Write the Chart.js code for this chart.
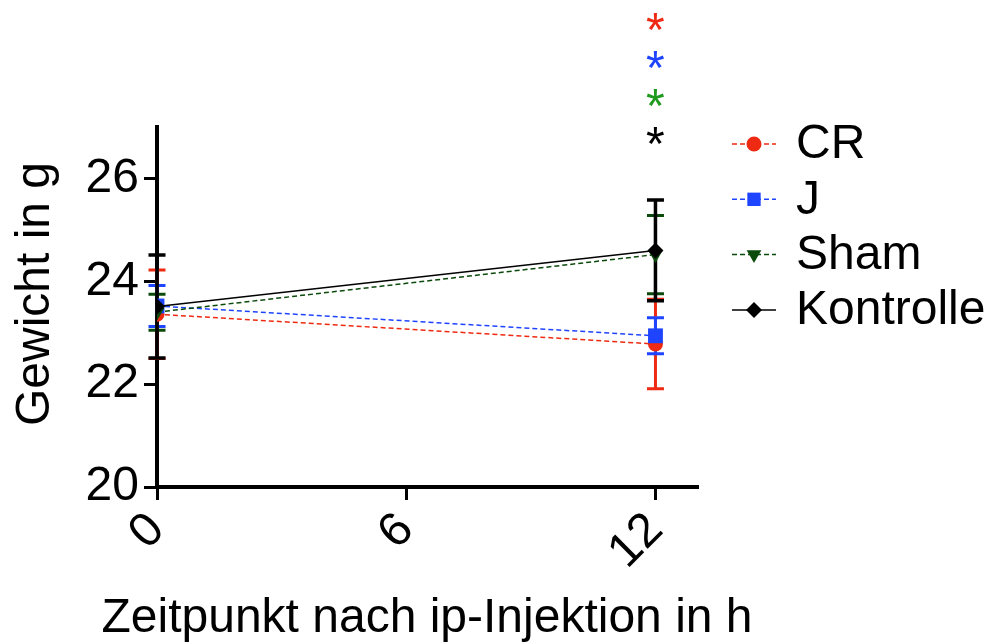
<!DOCTYPE html>
<html>
<head>
<meta charset="utf-8">
<script src="https://cdn.jsdelivr.net/npm/chart.js@4.4.1/dist/chart.umd.min.js"></script>
<style>
  html, body { margin: 0; padding: 0; background: #fff; }
  #wrap { width: 990px; height: 642px; }
</style>
</head>
<body>
<div id="wrap"><canvas id="weight-chart" width="990" height="642"></canvas></div>
<script>
// values
const timePoints = [0, 12];
const groupNames = ['CR', 'J', 'Sham', 'Kontrolle'];
const crMean = [23.36, 22.78];
const crSd = [0.86, 0.87];
const jMean = [23.52, 22.94];
const jSd = [0.40, 0.35];
const shamMean = [23.40, 24.52];
const shamSd = [0.35, 0.76];
const kontrolleMean = [23.51, 24.60];
const kontrolleSd = [1.00, 0.98];
const xTicks = [0, 6, 12];
const yTicks = [20, 22, 24, 26];
const xTitle = 'Zeitpunkt nach ip-Injektion in h';
const yTitle = 'Gewicht in g';
const starTime = 12;
const starLabels = ['*', '*', '*', '*'];

const FONT = '"Liberation Sans", Arial, sans-serif';
const colors = ['#ee2a12', '#1f44ff', '#0c4a0c', '#000000'];
const starColors = ['#ee2a12', '#1f44ff', '#1f9a1f', '#000000'];

function toPoints(means) {
  return timePoints.map((t, i) => ({ x: t, y: means[i] }));
}

const means = [crMean, jMean, shamMean, kontrolleMean];
const sds = [crSd, jSd, shamSd, kontrolleSd];
const styles = [
  { pointStyle: 'circle', radius: 7.5, rotation: 0, dash: [5, 3] },
  { pointStyle: 'rect', radius: 10.5, rotation: 0, dash: [5, 3] },
  { pointStyle: 'triangle', radius: 8.5, rotation: 180, dash: [5, 3] },
  { pointStyle: 'rectRot', radius: 8, rotation: 0, dash: [] }
];

const datasets = groupNames.map((name, i) => ({
  label: name,
  data: toPoints(means[i]),
  borderColor: colors[i],
  backgroundColor: colors[i],
  borderWidth: 1.5,
  borderDash: styles[i].dash,
  pointStyle: styles[i].pointStyle,
  pointRadius: styles[i].radius,
  pointRotation: styles[i].rotation,
  pointBorderWidth: 0,
  order: 3 - i,
  fill: false
}));

const errorBars = {
  id: 'errorBars',
  beforeDatasetsDraw(chart) {
    const ctx = chart.ctx;
    const xs = chart.scales.x, ys = chart.scales.y;
    ctx.save();
    groupNames.forEach((name, i) => {
      ctx.strokeStyle = colors[i];
      ctx.lineWidth = i === 3 ? 3.5 : 3;
      timePoints.forEach((t, j) => {
        const px = xs.getPixelForValue(t);
        const top = ys.getPixelForValue(means[i][j] + sds[i][j]);
        const bot = ys.getPixelForValue(means[i][j] - sds[i][j]);
        ctx.beginPath();
        ctx.moveTo(px, top); ctx.lineTo(px, bot);
        ctx.moveTo(px - 8.5, top); ctx.lineTo(px + 8.5, top);
        ctx.moveTo(px - 8.5, bot); ctx.lineTo(px + 8.5, bot);
        ctx.stroke();
      });
    });
    ctx.restore();
  }
};

const extras = {
  id: 'extras',
  afterDraw(chart) {
    const ctx = chart.ctx;
    const area = chart.chartArea;
    ctx.save();
    ctx.font = '48px ' + FONT;
    ctx.fillStyle = '#000';

    // axis titles (drawn here so they are not squeezed to the plot width)
    ctx.textAlign = 'center';
    ctx.textBaseline = 'alphabetic';
    ctx.fillText(xTitle, (area.left + area.right) / 2, 632);
    ctx.save();
    ctx.translate(49, 294);
    ctx.rotate(-Math.PI / 2);
    ctx.fillText(yTitle, 0, 0);
    ctx.restore();

    // significance stars above the 12 h point
    const sx = chart.scales.x.getPixelForValue(starTime);
    starLabels.forEach((s, i) => {
      ctx.fillStyle = starColors[i];
      ctx.fillText(s, sx, 46 + i * 38);
    });

    // legend: line sample with marker, then the name
    groupNames.forEach((name, i) => {
      const y = 144 + i * 55.3;
      ctx.strokeStyle = colors[i];
      ctx.lineWidth = 1.5;
      ctx.setLineDash(styles[i].dash);
      ctx.beginPath();
      ctx.moveTo(732, y); ctx.lineTo(776, y);
      ctx.stroke();
      ctx.setLineDash([]);
      ctx.fillStyle = colors[i];
      Chart.helpers.drawPoint(ctx, {
        pointStyle: styles[i].pointStyle,
        radius: styles[i].radius * (i === 1 ? 0.9 : 1),
        rotation: styles[i].rotation,
        borderWidth: 0
      }, 754, y);
      ctx.fillStyle = '#000';
      ctx.textAlign = 'left';
      ctx.textBaseline = 'middle';
      ctx.fillText(name, 796, y + 1);
    });
    ctx.restore();
  }
};

new Chart(document.getElementById('weight-chart'), {
  type: 'line',
  data: { datasets },
  options: {
    responsive: false,
    animation: false,
    layout: { padding: { left: 0, top: 127, right: 293, bottom: 0 } },
    plugins: { legend: { display: false }, tooltip: { enabled: false } },
    scales: {
      x: {
        type: 'linear',
        min: 0,
        max: 13,
        afterBuildTicks: s => { s.ticks = xTicks.map(v => ({ value: v })); },
        afterFit: s => { s.height = 155; },
        border: { display: true, color: '#000', width: 4 },
        grid: { drawOnChartArea: false, drawTicks: true, tickLength: 13, color: '#000', lineWidth: 3 },
        ticks: { color: '#000', font: { size: 48, family: FONT }, minRotation: 45, maxRotation: 45, padding: 2 }
      },
      y: {
        min: 20,
        max: 27,
        afterBuildTicks: s => { s.ticks = yTicks.map(v => ({ value: v })); },
        afterFit: s => { s.width = 157; },
        border: { display: true, color: '#000', width: 4 },
        grid: { drawOnChartArea: false, drawTicks: true, tickLength: 13, color: '#000', lineWidth: 3 },
        ticks: { color: '#000', font: { size: 48, family: FONT }, padding: 5 }
      }
    }
  },
  plugins: [errorBars, extras]
});
</script>
</body>
</html>
